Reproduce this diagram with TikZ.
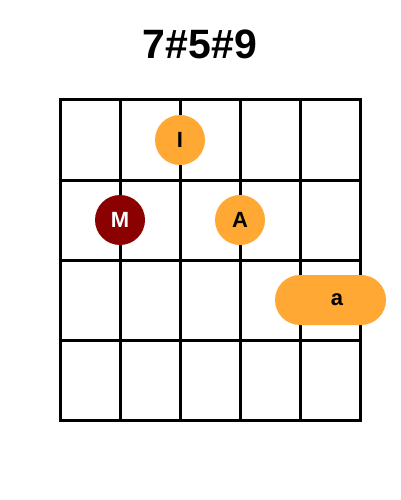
\documentclass[tikz,border=0pt]{standalone}
\usepackage{fontspec}
\setmainfont{Liberation Sans}
\definecolor{dotorange}{HTML}{FFA833}
\definecolor{dotred}{HTML}{8B0000}
\begin{document}
\begin{tikzpicture}[x=1pt,y=-1pt,
  gridline/.style={line width=3pt,line cap=rect},
  fingerdot/.style={circle,minimum size=50pt,inner sep=0pt,fill=dotorange,font=\fontsize{22}{22}\selectfont\bfseries},
  reddot/.style={fingerdot,fill=dotred,text=white},
  barre/.style={rounded corners=25pt,fill=dotorange}]
\useasboundingbox (0,0) rectangle (400,500);
\node[font=\fontsize{41}{41}\selectfont\bfseries] (title) at (200,44) {7\#5\#9};
\foreach \x in {60,120,...,360} \draw[gridline] (\x,100) -- (\x,420);
\foreach \y in {100,180,...,420} \draw[gridline] (60,\y) -- (360,\y);
\node[fingerdot] (i) at (180,140) {I};
\node[reddot] (m) at (120,220) {M};
\node[fingerdot] (a) at (240,220) {A};
\fill[barre] (275,275) rectangle (386,325);
\node[font=\fontsize{22}{22}\selectfont\bfseries] (bar) at (337,300) {a};
\end{tikzpicture}
\end{document}
